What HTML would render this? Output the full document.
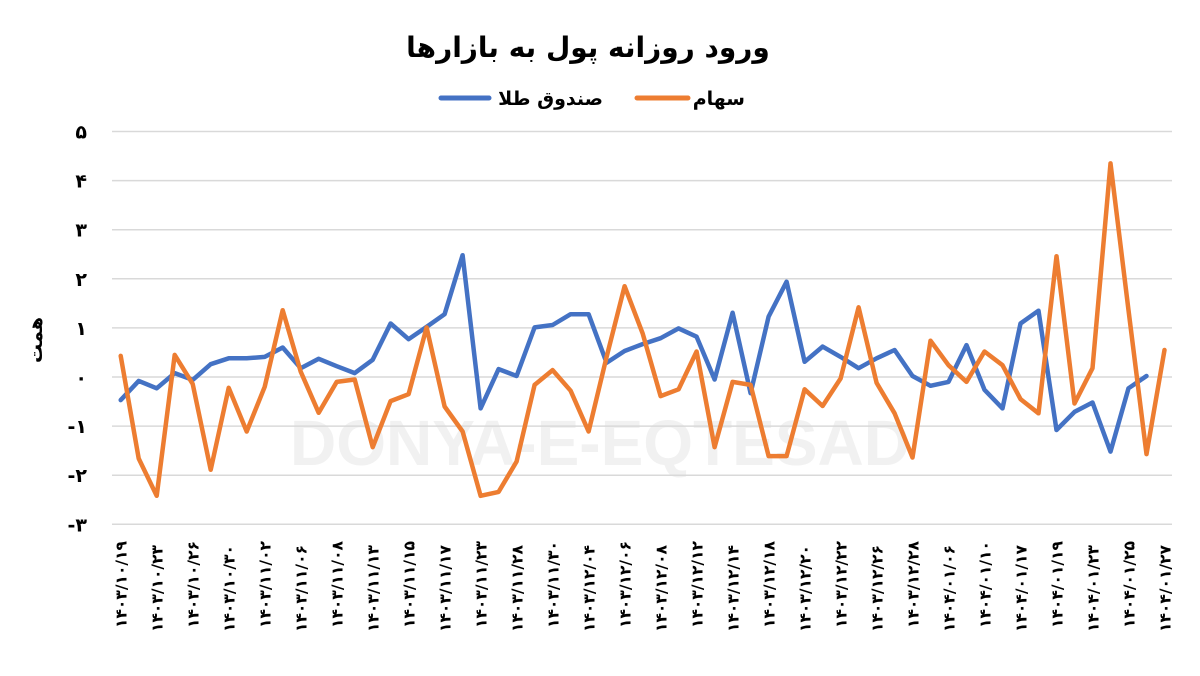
<!DOCTYPE html>
<html><head><meta charset="utf-8">
<style>
body{margin:0;background:#fff;}
svg{display:block;font-family:"DejaVu Sans","Liberation Sans",sans-serif;}
</style></head>
<body>
<svg id="chart" width="1200" height="676" viewBox="0 0 1200 676" xmlns="http://www.w3.org/2000/svg">
<rect width="1200" height="676" fill="#fff"/>
<text x="600" y="465" text-anchor="middle" font-family="Liberation Sans,sans-serif" font-weight="bold" font-size="64" fill="#f1f1f1">DONYA-E-EQTESAD</text>
<text x="588" y="57" text-anchor="middle" font-weight="bold" font-size="28" fill="#000">ورود روزانه پول به بازارها</text>
<g>
 <g>
  <line x1="441" y1="98" x2="489" y2="98" stroke="#4472c4" stroke-width="5" stroke-linecap="round"/>
  <text x="603" y="105" text-anchor="end" font-weight="bold" font-size="19">صندوق طلا</text>
 </g>
 <g>
  <line x1="637" y1="98" x2="688" y2="98" stroke="#ed7d31" stroke-width="5" stroke-linecap="round"/>
  <text x="745" y="105" text-anchor="end" font-weight="bold" font-size="19">سهام</text>
 </g>
</g>
<text transform="translate(42,340) rotate(-90)" text-anchor="middle" font-weight="bold" font-size="19">همت</text>
<g id="grid"></g>
<g id="yticks"></g>
<g id="xticks"></g>
<g id="series"></g>
</svg>
<script>
const categories = ["۱۴۰۳/۱۰/۱۹","۱۴۰۳/۱۰/۲۳","۱۴۰۳/۱۰/۲۶","۱۴۰۳/۱۰/۳۰","۱۴۰۳/۱۱/۰۲","۱۴۰۳/۱۱/۰۶","۱۴۰۳/۱۱/۰۸","۱۴۰۳/۱۱/۱۳","۱۴۰۳/۱۱/۱۵","۱۴۰۳/۱۱/۱۷","۱۴۰۳/۱۱/۲۳","۱۴۰۳/۱۱/۲۸","۱۴۰۳/۱۱/۳۰","۱۴۰۳/۱۲/۰۴","۱۴۰۳/۱۲/۰۶","۱۴۰۳/۱۲/۰۸","۱۴۰۳/۱۲/۱۲","۱۴۰۳/۱۲/۱۴","۱۴۰۳/۱۲/۱۸","۱۴۰۳/۱۲/۲۰","۱۴۰۳/۱۲/۲۲","۱۴۰۳/۱۲/۲۶","۱۴۰۳/۱۲/۲۸","۱۴۰۴/۰۱/۰۶","۱۴۰۴/۰۱/۱۰","۱۴۰۴/۰۱/۱۷","۱۴۰۴/۰۱/۱۹","۱۴۰۴/۰۱/۲۳","۱۴۰۴/۰۱/۲۵","۱۴۰۴/۰۱/۲۷"];
const goldFund = [-0.47,-0.08,-0.23,0.08,-0.06,0.26,0.38,0.38,0.41,0.60,0.18,0.37,0.22,0.08,0.35,1.09,0.77,1.02,1.28,2.48,-0.64,0.16,0.02,1.01,1.06,1.28,1.28,0.29,0.53,0.67,0.79,0.99,0.82,-0.05,1.31,-0.33,1.23,1.94,0.31,0.62,0.41,0.18,0.38,0.55,0.02,-0.18,-0.10,0.65,-0.26,-0.64,1.09,1.35,-1.08,-0.71,-0.52,-1.52,-0.23,0.02];
const stocks = [0.43,-1.66,-2.42,0.45,-0.14,-1.89,-0.22,-1.11,-0.20,1.36,0.11,-0.73,-0.10,-0.05,-1.43,-0.49,-0.35,1.01,-0.60,-1.11,-2.42,-2.34,-1.72,-0.16,0.14,-0.28,-1.11,0.41,1.85,0.89,-0.39,-0.25,0.52,-1.43,-0.10,-0.16,-1.61,-1.61,-0.25,-0.59,-0.03,1.42,-0.12,-0.74,-1.64,0.74,0.24,-0.10,0.52,0.24,-0.45,-0.74,2.46,-0.54,0.18,4.35,1.36,-1.57,0.55];
const yTicks = [5,4,3,2,1,0,-1,-2,-3];
const yTickLabels = ["۵","۴","۳","۲","۱","۰","-۱","-۲","-۳"];

const NS="http://www.w3.org/2000/svg";
const nPoints = stocks.length;
const x0=120.7, x1=1164.5;
function xScale(i){return x0+(x1-x0)*i/(nPoints-1);}
function yScale(v){return 377-v*49.1;}
function mk(tag,attrs,parent){const e=document.createElementNS(NS,tag);for(const k in attrs)e.setAttribute(k,attrs[k]);parent.appendChild(e);return e;}

const grid=document.getElementById('grid'), yt=document.getElementById('yticks'), xt=document.getElementById('xticks'), ser=document.getElementById('series');
yTicks.forEach((v,i)=>{
  const l=mk('line',{x1:112,x2:1172,y1:yScale(v),y2:yScale(v),stroke:'#d9d9d9','stroke-width':1.5},grid);
  
  
  const t=mk('text',{x:87,y:yScale(v)+7,'text-anchor':'end','font-size':19,'font-weight':'bold',fill:'#000'},yt);
  t.textContent=yTickLabels[i];
  
  
});
categories.forEach((c,i)=>{
  const x=xScale(i*2)+6, y=541+(i%2)*4;
  const t=mk('text',{transform:`translate(${x},${y}) rotate(-90)`,'text-anchor':'end','font-size':15.5,'font-weight':'bold',fill:'#000'},xt);
  t.textContent=c;
  
  
});
function drawLine(vals,color,name){
  const pts=vals.map((v,i)=>xScale(i).toFixed(1)+','+yScale(v).toFixed(1)).join(' ');
  const p=mk('polyline',{points:pts,fill:'none',stroke:color,'stroke-width':4.5,'stroke-linejoin':'round','stroke-linecap':'round'},ser);
  
  
}
drawLine(goldFund,'#4472c4','gold-fund-line');
drawLine(stocks,'#ed7d31','stocks-line');
</script>
</body></html>
